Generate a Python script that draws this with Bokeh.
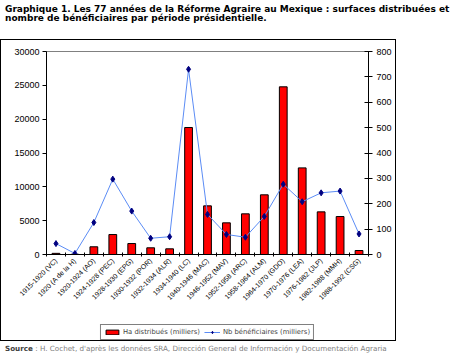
from bokeh.plotting import figure
from bokeh.models import (Range1d, LinearAxis, FixedTicker, Div, Legend, LegendItem,
                          ColumnDataSource)
from bokeh.layouts import column
from bokeh.embed import file_html
from bokeh.resources import INLINE
import math

categories = ["1915-1920 (VC)", "1920 (A de la H)", "1920-1924 (AO)", "1924-1928 (PEC)",
              "1928-1930 (EPG)", "1930-1932 (POR)", "1932-1934 (ALR)", "1934-1940 (LC)",
              "1940-1946 (MAC)", "1946-1952 (MAV)", "1952-1958 (ARC)", "1958-1964 (ALM)",
              "1964-1970 (GDO)", "1970-1976 (LEA)", "1976-1982 (JLP)", "1982-1988 (MMH)",
              "1988-1992 (CSG)"]
ha_distribues = [170, 30, 1140, 2950, 1620, 990, 840, 18770, 7190, 4680, 6010, 8820,
                 24780, 12800, 6300, 5610, 590]
nb_beneficiaires = [43, 4, 126, 297, 171, 64, 70, 730, 158, 79, 68, 150,
                    277, 208, 243, 250, 81]
left_ticks = [0, 5000, 10000, 15000, 20000, 25000, 30000]
right_ticks = [0, 100, 200, 300, 400, 500, 600, 700, 800]

title_line1 = "Graphique 1. Les 77 années de la Réforme Agraire au Mexique : surfaces distribuées et"
title_line2 = "nombre de bénéficiaires par période présidentielle."
source_bold = "Source"
source_rest = " : H. Cochet, d'après les données SRA, Dirección General de Información y Documentación Agraria"
legend_bar = "Ha distribués (milliers)"
legend_line = "Nb bénéficiaires (milliers)"

BAR_COLOR = "#FF0000"
LINE_COLOR = "#5B8CF5"
MARKER_COLOR = "#000080"

xs = list(range(1, len(categories) + 1))
src = ColumnDataSource(dict(x=xs, ha=ha_distribues, nb=nb_beneficiaires))

FW, FH = 394, 284
ML, MR, MT = 45, 27, 11
MB = FH - MT - 203


def draw_series(fig, y_range_name_line):
    b = fig.vbar(x="x", top="ha", width=0.41, source=src, fill_color=BAR_COLOR,
                 line_color="black", line_width=1)
    l = fig.line(x="x", y="nb", source=src, y_range_name=y_range_name_line,
                 line_color=LINE_COLOR, line_width=1)
    m = fig.scatter(x="x", y="nb", source=src, y_range_name=y_range_name_line,
                    marker="diamond", size=6, fill_color=MARKER_COLOR, line_color=MARKER_COLOR)
    return b, l, m


p = figure(width=FW, height=FH, output_backend="svg", toolbar_location=None,
           x_range=Range1d(0.5, len(categories) + 0.5), y_range=Range1d(0, 30000),
           min_border_left=ML, min_border_right=MR, min_border_top=MT, min_border_bottom=MB,
           background_fill_color="white", border_fill_color="white")
p.extra_y_ranges = {"nb": Range1d(0, 800)}
p.outline_line_color = "#808080"
p.xgrid.visible = False
p.ygrid.visible = False
draw_series(p, "nb")

# x axis
xa = p.xaxis[0]
xa.ticker = FixedTicker(ticks=xs, minor_ticks=[i + 0.5 for i in range(len(categories) + 1)])
xa.major_label_overrides = {i: c for i, c in zip(xs, categories)}
xa.major_label_orientation = math.pi / 4
xa.major_tick_in = 0
xa.major_tick_out = 0
xa.minor_tick_in = 2
xa.minor_tick_out = 2
xa.minor_tick_line_color = "black"
xa.axis_line_color = "black"
xa.major_label_text_font = "Liberation Sans"
xa.major_label_text_font_size = "7px"
xa.major_label_text_color = "black"
xa.major_label_standoff = 3

# left axis
ya = p.yaxis[0]
ya.ticker = FixedTicker(ticks=left_ticks)
ya.major_tick_in = 0
ya.major_tick_out = 4
ya.minor_tick_line_color = None
ya.axis_line_color = "black"
ya.major_label_text_font = "Liberation Sans"
ya.major_label_text_font_size = "9px"
ya.major_label_text_color = "black"
ya.major_label_standoff = 3

# right axis
ra = LinearAxis(y_range_name="nb", ticker=FixedTicker(ticks=right_ticks))
ra.major_tick_in = 4
ra.major_tick_out = 4
ra.minor_tick_line_color = None
ra.axis_line_color = "black"
ra.major_label_text_font = "Liberation Sans"
ra.major_label_text_font_size = "9px"
ra.major_label_text_color = "black"
ra.major_label_standoff = 4
p.add_layout(ra, "right")

# legend strip: same series drawn with ranges far above all values,
# so only the legend (with its glyph swatches) is visible
lg = figure(width=FW, height=16, output_backend="svg", toolbar_location=None,
            x_axis_type=None, y_axis_type=None, min_border=0,
            x_range=Range1d(0.5, len(categories) + 0.5), y_range=Range1d(1e7, 2e7),
            background_fill_color="white", border_fill_color="white")
lg.extra_y_ranges = {"nb": Range1d(1e6, 2e6)}
lg.outline_line_color = None
lg.xgrid.visible = False
lg.ygrid.visible = False
r_bar, r_line, r_mk = draw_series(lg, "nb")
legend = Legend(items=[LegendItem(label=legend_bar, renderers=[r_bar]),
                       LegendItem(label=legend_line, renderers=[r_line, r_mk])],
                orientation="horizontal", location="top_center",
                label_text_font="DejaVu Sans", label_text_font_size="6.8px",
                glyph_width=16, glyph_height=6, label_standoff=3, spacing=4,
                padding=3, margin=0, border_line_color="black", border_line_width=1,
                label_height=7, background_fill_alpha=1)
lg.add_layout(legend, "center")

chart_box = column(p, lg, spacing=0, styles={"border": "1px solid black"})

title_div = Div(text=title_line1 + "<br>" + title_line2, width=443, height=29,
                styles={"font-family": "DejaVu Sans", "font-size": "9px",
                        "font-weight": "bold", "line-height": "9px",
                        "white-space": "nowrap", "color": "black"})
source_div = Div(text="<span style='font-weight:bold;color:#404040'>" + source_bold +
                 "</span>" + source_rest, width=443, height=13,
                 styles={"font-family": "DejaVu Sans", "font-size": "7.2px",
                         "line-height": "9px", "white-space": "nowrap",
                         "color": "#808080", "margin-top": "3px"})

layout = column(title_div, chart_box, source_div, spacing=0)
open("out.html", "w").write(file_html(layout, INLINE))
